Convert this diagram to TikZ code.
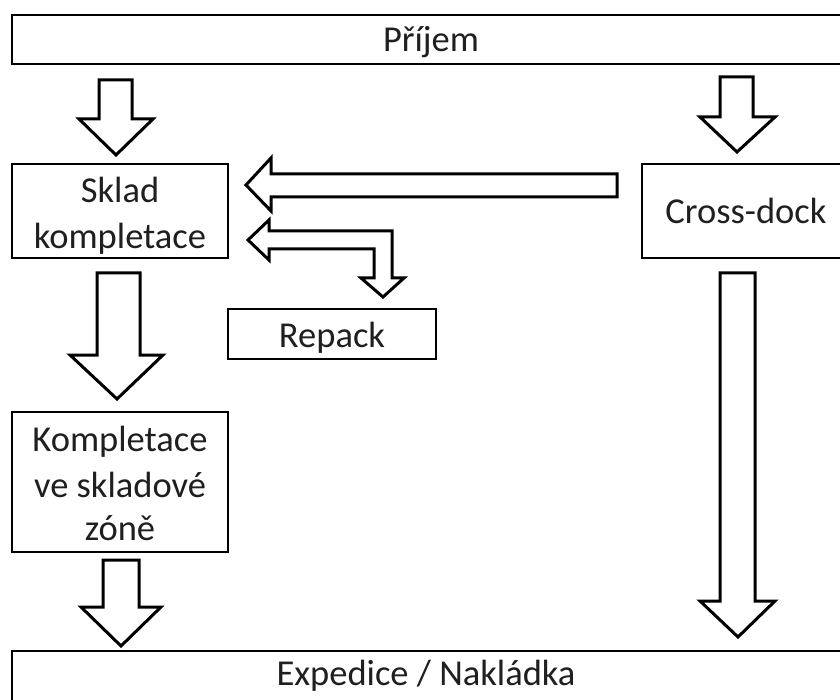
\documentclass[tikz,border=0pt]{standalone}
\usepackage{fontspec}
\setmainfont{Carlito}
\begin{document}
\begin{tikzpicture}[x=1pt,y=-1pt]
\tikzset{
  box/.style={draw=black, line width=1.6pt, inner sep=0pt, fill=white},
  lbl/.style={anchor=base, inner sep=0pt, text=black!88, font=\fontsize{36.5}{44}\selectfont},
  blockarrow/.style={draw=black, line width=3pt, line join=miter, fill=white}
}
\useasboundingbox (0,0) rectangle (840,700);
\clip (0,0) rectangle (840,700);
\fill[white] (0,0) rectangle (840,700);

% boxes
\node[box, minimum width=836pt, minimum height=49pt] (prijem) at (430,39.5) {};
\node[lbl] (prijemtxt) at (431,52) {Příjem};

\node[box, minimum width=216pt, minimum height=94pt] (sklad) at (120,211) {};
\node[lbl] (skladtxt1) at (120,203) {Sklad};
\node[lbl] (skladtxt2) at (120,249) {kompletace};

\node[box, minimum width=208pt, minimum height=94pt] (cross) at (746,211) {};
\node[lbl] (crosstxt) at (746,224) {Cross-dock};

\node[box, minimum width=208pt, minimum height=50pt] (repack) at (332,334) {};
\node[lbl] (repacktxt) at (332,348) {Repack};

\node[box, minimum width=216pt, minimum height=140pt] (komp) at (120,482) {};
\node[lbl] (komptxt1) at (120,451) {Kompletace};
\node[lbl] (komptxt2) at (120,497) {ve skladové};
\node[lbl] (komptxt3) at (120,540) {zóně};

\node[box, minimum width=836pt, minimum height=80pt] (exped) at (430,691) {};
\node[lbl] (expedtxt) at (426,685) {Expedice / Nakládka};

% block arrows
% Prijem -> Sklad
\draw[blockarrow] (99,80) -- (132,80) -- (132,119) -- (153,119) -- (116,155) -- (79,119) -- (99,119) -- cycle;
% Prijem -> Cross-dock
\draw[blockarrow] (720,77) -- (753,77) -- (753,117) -- (775,117) -- (737,152) -- (700,117) -- (720,117) -- cycle;
% Cross-dock -> Sklad
\draw[blockarrow] (617,174) -- (617,197) -- (271,197) -- (271,211) -- (246,185) -- (271,158) -- (271,174) -- cycle;
% Sklad <-> Repack (bent)
\draw[blockarrow] (248,240) -- (269,220) -- (269,231) -- (392,231) -- (392,278) -- (404,278) -- (383,297) -- (361,278) -- (374,278) -- (374,249) -- (269,249) -- (269,260) -- cycle;
% Sklad -> Kompletace
\draw[blockarrow] (97,273) -- (140,273) -- (140,355) -- (163,355) -- (117,399) -- (70,355) -- (97,355) -- cycle;
% Kompletace -> Expedice
\draw[blockarrow] (103,560) -- (139,560) -- (139,607) -- (161,607) -- (121,646) -- (81,607) -- (103,607) -- cycle;
% Cross-dock -> Expedice
\draw[blockarrow] (720,273) -- (755,273) -- (755,601) -- (775,601) -- (738,637) -- (700,601) -- (720,601) -- cycle;
\end{tikzpicture}
\end{document}
